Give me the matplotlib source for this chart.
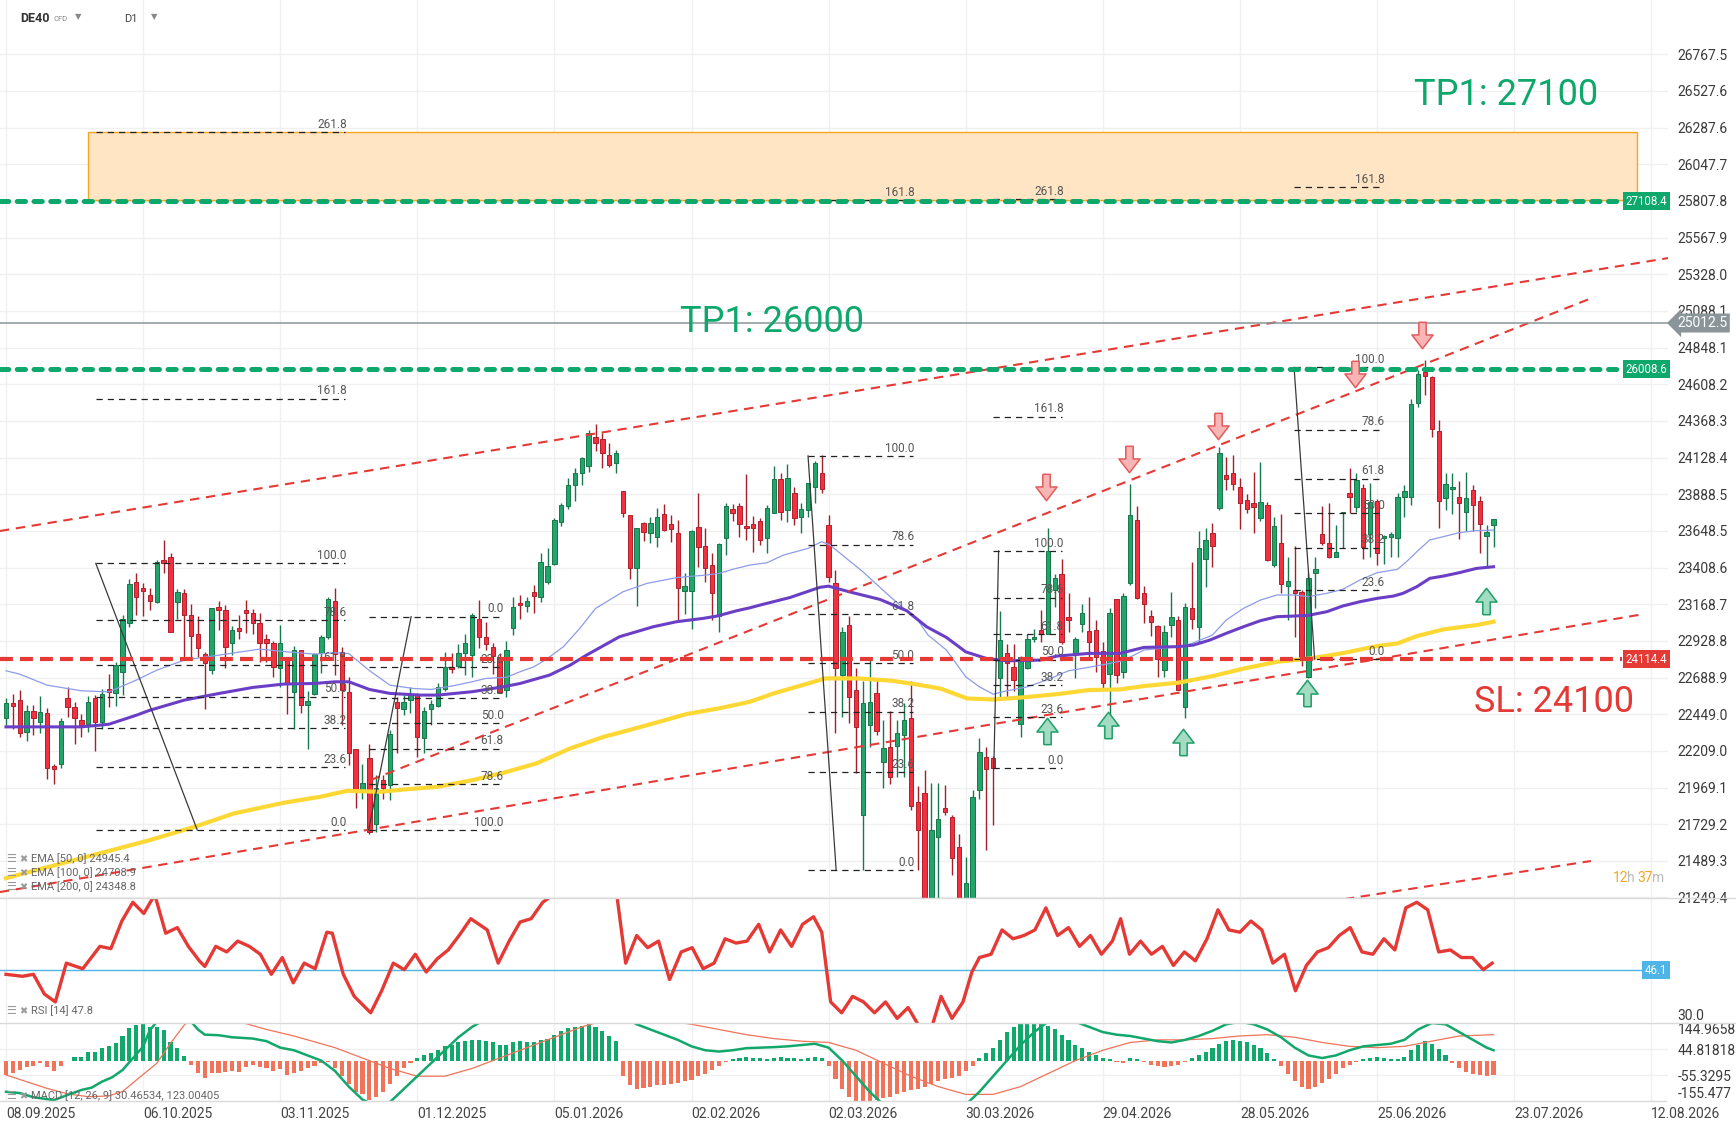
import numpy as np
import matplotlib
matplotlib.use('Agg')
import matplotlib.pyplot as plt
from matplotlib.path import Path
from matplotlib.lines import Line2D
from matplotlib import transforms

plt.rcParams['font.family'] = ['Roboto', 'DejaVu Sans']

# ---- data (price in axis units, x in bar index) ----
opens = [22421,22525,22539,22333,22471,22401,22456,22113,22126,22556,
         22493,22408,22388,22552,22399,22611,22589,22726,23043,23315,
         23272,23230,23180,23455,23475,23180,23239,23101,22971,22846,
         22737,23152,23134,22918,23016,23130,23108,23043,22940,22912,
         22748,22818,22595,22872,22512,22580,22851,22951,23189,22853,
         22595,22224,21947,22159,21729,22017,21985,22530,22480,22541,
         22574,22290,22480,22502,22611,22759,22764,22851,22836,23069,
         22951,22890,22820,22607,23010,23178,23159,23250,23213,23316,
         23429,23708,23813,23946,24025,24073,24261,24247,24145,24095,
         23911,23750,23403,23702,23632,23606,23757,23691,23632,23257,
         23257,23671,23549,23423,23091,23599,23789,23811,23680,23693,
         23713,23599,23767,23986,23785,23898,23737,23785,23933,24025,
         23684,23309,22705,23032,22607,21788,22378,22589,22137,22236,
         22240,22312,22421,21876,21930,21100,21642,21836,21773,21577,
         21150,21150,21952,22166,22159,22689,22847,22755,22384,22748,
         22938,22999,22973,23261,23364,23087,22851,23039,22995,22999,
         22864,22711,23200,22727,23309,23720,23240,23093,23026,22738,
         23032,23065,22498,23141,23022,23462,23632,23796,24014,24029,
         23933,23851,23833,23731,23818,23425,23571,23288,23261,23250,
         22694,23370,23628,23567,23480,23763,23899,23803,23927,23628,
         23846,23600,23610,23600,23868,23868,24488,24691,24654,24302,
         23861,23920,23868,23774,23916,23846,23615,23687]
highs = [22552,22580,22604,22506,22506,22567,22491,22126,22427,22624,
         22530,22453,22567,22573,22611,22711,22792,23097,23333,23374,
         23309,23278,23457,23592,23507,23267,23265,23173,23093,22857,
         23145,23189,23163,23025,23097,23195,23136,23108,22973,22927,
         23032,22824,22894,22872,22602,22851,22966,23213,23272,22890,
         22693,22224,22126,22257,22050,22050,22345,22563,22574,22628,
         22585,22498,22541,22650,22857,22847,22908,22977,23108,23196,
         23054,22912,22847,22930,23213,23228,23218,23294,23501,23534,
         23730,23833,23992,24058,24134,24309,24348,24291,24221,24178,
         23911,23750,23665,23709,23741,23796,23824,23752,23719,23375,
         23654,23898,23665,23506,23567,23829,23824,23833,24021,23745,
         23730,23818,24073,24029,24086,23938,23833,23964,24108,24145,
         23752,23392,23017,23091,22748,22668,22820,22683,22410,22471,
         22410,22519,22668,21978,22083,21996,21996,21985,21788,21668,
         21516,21952,22290,22231,22175,23126,22908,22908,22829,22977,
         23004,23130,23665,23366,23462,23244,22956,23170,23213,23065,
         22923,23141,23200,23240,23955,23811,23288,23130,23032,23032,
         23250,23091,23178,23447,23650,23665,23698,24195,24134,24145,
         23992,23890,24036,24101,23840,23741,23759,23475,23549,23261,
         23375,23475,23811,23829,23687,23774,24058,24025,23955,23960,
         23855,23622,23640,23894,23949,24510,24702,24767,24662,24374,
         24025,24025,23977,24036,23949,23877,23687,23724]
lows = [22377,22355,22301,22274,22312,22323,22028,21995,22100,22432,
        22257,22301,22333,22209,22355,22497,22504,22573,23021,23097,
        23093,23130,23174,23374,22988,23075,22813,22820,22820,22486,
        22715,22999,22748,22835,22938,22981,22977,22792,22792,22693,
        22628,22453,22355,22460,22224,22573,22720,22944,22704,22377,
        22115,21838,21897,21668,21679,21897,21887,22192,22443,22454,
        22166,22192,22378,22493,22602,22716,22748,22705,22694,22879,
        22868,22711,22596,22563,22967,23069,23119,23113,23185,23300,
        23425,23680,23789,23846,23946,24036,24173,24058,24064,24029,
        23737,23331,23159,23584,23571,23540,23647,23578,23065,23104,
        23004,23414,23316,23065,22988,23490,23715,23610,23589,23512,
        23556,23501,23763,23719,23708,23687,23632,23737,23833,23894,
        23316,22323,22432,22393,22061,21428,22236,22312,21963,21995,
        22039,22039,21825,21428,21050,21000,21150,21788,21395,21080,
        21050,21100,21897,21559,21723,22563,22552,22602,22301,22742,
        22923,22923,22973,23152,22908,22988,22689,22988,22825,22727,
        22617,22301,22650,22683,23294,23200,23043,22960,22694,22694,
        22952,22607,22421,23004,22923,23279,23414,23785,23916,23916,
        23659,23763,23637,23715,23453,23410,23240,23065,22956,22764,
        22683,23141,23556,23469,23475,23534,23763,23774,23462,23480,
        23425,23432,23480,23480,23741,23818,24462,24538,24261,23665,
        23785,23759,23593,23650,23650,23506,23419,23541]
closes = [22519,22501,22323,22471,22421,22462,22100,22087,22403,22493,
          22421,22381,22532,22399,22584,22595,22770,23069,23298,23213,
          23256,23191,23446,23440,22990,23246,23097,22960,22885,22781,
          23141,23130,22890,23003,22995,23108,23043,22916,22912,22755,
          22912,22650,22868,22508,22536,22846,22951,23200,22846,22606,
          22198,21947,21999,21679,21969,21967,22319,22487,22526,22580,
          22297,22469,22515,22624,22759,22742,22847,22916,23095,22951,
          22906,22829,22596,22868,23152,23163,23191,23224,23442,23418,
          23719,23815,23946,24025,24123,24291,24226,24156,24079,24156,
          23767,23403,23665,23639,23698,23741,23654,23658,23272,23287,
          23647,23540,23403,23239,23562,23811,23767,23691,23665,23665,
          23588,23796,23986,23774,23992,23730,23789,23959,24090,23920,
          23348,22748,22988,22563,22362,22519,22530,22340,22225,22039,
          22327,22414,21847,21690,21150,21690,21760,21810,21511,21150,
          21341,21908,22203,22087,22100,22934,22781,22672,22825,22938,
          22951,22973,23519,23337,22923,23065,22938,23108,22923,22825,
          22650,23108,22705,23222,23752,23207,23170,23050,22807,22989,
          23087,22607,23148,23069,23534,23589,23549,24156,23986,23955,
          23833,23790,23807,23840,23458,23680,23301,23323,23244,22807,
          23338,23397,23571,23475,23512,23774,23868,23981,23545,23840,
          23506,23615,23625,23868,23909,24479,24675,24665,24313,23846,
          23955,23933,23829,23861,23818,23693,23643,23724]

ema50_bar = [0,2,6,11,15,19,22,26,31,37,41,45,48,50,53,56,59.5,62,65,68,70,73,75,77,79,81.3,83.7,86,90,93.5,98,102,104,106,108.5,111,113.4,117,119,120.2,125,129,133,134.5,137.2,140,142,144,146,149,152,155,159,161,163,166,171,173,176,178,180.5,183,185.4,188,190,192.7,195,197.5,200,203,204.3,205.8,207.7,209.7,212,214.5,217]
ema50_val = [22733,22711,22639,22602,22595,22672,22737,22803,22835,22875,22857,22842,22851,22846,22735,22639,22617,22611,22633,22661,22683,22690,22727,22759,22814,22890,23010,23141,23250,23305,23344,23359,23370,23397,23425,23440,23490,23534,23578,23556,23381,23217,23065,22967,22868,22694,22628,22580,22602,22628,22676,22733,22764,22781,22800,22869,22891,22912,22967,23065,23141,23196,23229,23229,23218,23240,23266,23327,23375,23397,23447,23512,23589,23611,23637,23650,23654]
ema100_bar = [0,6,11,15,19,21,26,31,36,40.5,45,48,50,52,53,56,60.4,63,68,72.5,75,79.3,82.3,84.7,89.5,94.4,97.8,101.7,103.7,106.6,108.5,110,114.4,118.7,120,123,127.5,131.4,134.3,137.2,140,143,146,150.8,153.3,158,162.5,166,171,173.2,175.6,178,180.5,183,185.4,187.8,190,192.7,195,197.5,200,202.4,203.8,205.8,207.7,209.7,212,214.5,217]
ema100_val = [22366,22366,22366,22383,22442,22475,22541,22584,22624,22646,22650,22661,22661,22628,22611,22585,22574,22574,22596,22628,22650,22705,22770,22836,22956,23021,23054,23076,23091,23126,23145,23163,23213,23279,23287,23250,23200,23126,23021,22951,22857,22814,22798,22803,22829,22847,22847,22886,22891,22901,22934,22978,23021,23061,23087,23091,23096,23120,23157,23185,23207,23222,23240,23283,23338,23353,23375,23403,23414]
ema200_bar = [0,21,27.8,33.2,40.5,45.8,49.7,54.6,58,63,68,72.5,77.4,82.3,87.2,90,94.4,99.3,104,108.5,112,117,119.5,124.3,129.2,132.5,136.3,140.2,144,148.4,153.3,158,162.5,166,171,176,180.7,185.4,190.4,195.3,200,203,205.8,209.7,214.5,217]
ema200_val = [21376,21625,21716,21799,21869,21908,21947,21941,21956,21974,22017,22065,22127,22225,22301,22334,22388,22450,22487,22530,22585,22650,22683,22683,22668,22646,22617,22552,22545,22559,22580,22607,22611,22633,22655,22698,22749,22792,22814,22851,22895,22912,22960,23004,23032,23054]

rsi_bar = [0,2.4,4,5.6,7.2,8.8,11.2,13.7,15.3,16.9,18.5,20.1,21.7,23.3,25,26.6,28.2,29,30.6,32.2,33.8,35.5,37.1,38.7,40.3,41.9,43.5,45.1,46.8,47.6,49.2,50.8,53.2,54.8,56.5,58.1,59.7,61.3,62.9,64.5,66.1,67.8,70.2,71.8,73.4,75,76.6,78.3,79.5,84.7,89.1,90.4,92,93.6,95.2,96.8,98.5,100.1,101.7,103.3,104.9,106.5,108.1,109.8,111.4,113,114.6,116.2,117.8,119,120.3,121.9,123.5,125.1,126.7,128.3,130,131.6,133.2,134.8,136.4,138,139.6,140.9,142,143.7,145.3,146.9,148.5,150.1,151.7,153.4,155,156.6,158.2,159.8,161.4,162.6,163.9,165.5,167.1,168.7,170.3,171.9,173.5,175.2,176.8,178.4,180,181.6,183.2,184.8,186.5,188.1,189.7,191.3,192.9,194.5,196.1,197.8,199.4,201,202.6,204.2,205.8,207.4,209,210.7,212.3,213.9,215.5,216.8]
rsi_val = [44.8,44.2,44.8,38.8,36.4,48.2,46.5,53.3,52.6,61.0,66.7,63.3,69,57.3,59.0,53.3,48.9,47.2,53.3,51.6,54.9,53.3,50.9,44.8,49.9,42.2,48.2,46.5,57.6,57.3,44.8,38.1,33.1,39.8,48.2,46.2,50.9,45.5,49.5,52.2,56.6,61.7,58.3,48.2,54.9,60.7,61.7,66.7,68.5,75,69,48.2,56.6,52.9,54.9,43.2,51.6,52.9,46.5,48.2,55.6,54.3,54.9,60.0,51.6,58.3,53.3,60.0,62.3,57.6,36.4,33.1,38.1,36.4,33.1,36.4,31.4,34.7,29.0,27,38.1,31.4,36.4,45.5,49.9,50.9,58.3,55.6,56.6,58.3,65.0,56.6,59.0,53.3,56.6,50.9,54.9,61.7,50.9,54.9,50.9,53.3,47.5,51.6,48.9,55.6,64.4,58.3,57.6,61.0,58.3,48.2,50.9,39.8,47.5,51.6,52.9,56.6,59.0,51.6,50.9,55.6,52.2,65.0,66.7,64.4,51.6,52.2,49.9,49.9,46.2,48.2]

macd_hist = [-55,-47,-36,-23,-20,-10,-26,-38,-20,-3,
             13,15,33,33,47,56,67,95,124,137,144,131,128,118,73,47,18,
             -17,-49,-68,-46,-46,-42,-38,-42,-26,-17,-26,-30,-38,-33,-55,-49,
             -40,-30,-20,-10,-5,-30,-60,-90,-120,-130,-150,-140,-120,-90,-60,
             -30,-10,10,20,30,40,55,60,70,75,80,78,75,70,60,62,70,75,72,70,
             80,85,100,115,125,130,135,140,130,115,95,75,
             -60,-95,-110,-105,-100,-95,-95,-90,-85,-80,-75,-60,-50,-35,-20,
             -5,8,12,15,12,10,8,12,15,12,10,8,12,15,10,
             -20,-70,-110,-140,-160,-160,-155,-150,-145,-140,-130,-120,-115,
             -110,-100,-90,-80,-70,-65,-60,-40,-20,
             10,30,50,80,110,130,140,145,145,140,135,120,100,80,60,50,35,20,10,5,
             -5,-10,10,5,-5,-15,-20,-25,-20,-15,-5,10,20,35,50,65,75,80,75,70,
             60,50,30,5,-20,-50,-80,-100,-110,-100,-85,-70,-50,-30,-15,-5,5,10,15,10,
             5,5,15,40,60,75,65,45,20,-10,-30,-45,-50,-55,-60,-55]
macd_bar = [0,2,4,7,9,11,12.5,14,15.5,17,18.5,20,21,22,27,28,29,31,33,36,38,40,42,43,44,46,48,50,52,54,56,58,60,62,64,66,68,70,88,90,92,94,96,98,100,102,104,106,108,110,112,114,116,118,120,122,124,126,128,130,134,138,140,142,144,146,148,150,152,154,156,158,160,162,164,166,168,170,172,174,176,178,180,182,184,186,188,190,192,194,196,198,200,202,204,206,208,210,212,214,216,217]
macd_val = [-120,-125,-141,-152,-132,-113,-104,-81,-64,-36,9,54,118,150,150,120,100,98,90,85,75,50,40,30,20,0,-40,-100,-150,-175,-160,-110,-60,-10,40,90,130,160,200,170,140,120,100,80,55,40,35,40,48,50,52,55,60,65,50,0,-60,-120,-170,-200,-220,-200,-170,-120,-60,0,60,110,150,160,150,130,110,100,95,85,75,70,80,95,115,140,150,140,120,90,50,20,10,20,40,55,60,65,80,120,145,140,110,80,50,40]
signal_bar = [0,3,6,9,12,15,17,19,22,24,26,27,31,34,38,42,44,48,52,56,60,64,68,72,76,80,84,88,92,96,100,104,108,112,116,120,124,128,132,136,140,144,148,152,156,160,164,168,172,176,180,184,188,192,196,200,204,208,212,217]
signal_val = [-55,-81,-107,-128,-139,-136,-119,-75,-10,67,137,160,165,150,120,95,80,50,10,-30,-60,-60,-30,10,50,90,130,160,165,155,140,120,100,85,75,70,40,-10,-60,-100,-130,-130,-100,-50,0,40,70,80,80,85,95,100,90,70,55,50,55,75,95,100]

price_ticks = [21249.4,21489.3,21729.2,21969.1,22209.0,22449.0,22688.9,22928.8,23168.7,
               23408.6,23648.5,23888.5,24128.4,24368.3,24608.2,24848.1,25088.1,25328.0,
               25567.9,25807.8,26047.7,26287.6,26527.6,26767.5]
macd_ticks = [144.9658, 44.81818, -55.3295, -155.477]
macd_tick_labels = ['144.9658', '44.81818', '-55.3295', '-155.477']
date_bars = list(range(0, 241, 20))
date_labels = ['08.09.2025','06.10.2025','03.11.2025','01.12.2025','05.01.2026','02.02.2026',
               '02.03.2026','30.03.2026','29.04.2026','28.05.2026','25.06.2026','23.07.2026','12.08.2026']

# horizontal levels: (value on scale, tag text)
tp_levels = [25807.5, 24706]
tp_tags = ['27108.4', '26008.6']
sl_level, sl_tag = 22810, '24114.4'
last_level, last_tag = 25009, '25012.5'
rsi_level = 46.1

zone_bars = (12, 238)
zone_vals = (25814, 26259)

# trend lines: bar0, bar1, val0, val1
trend_b0 = [-0.875, 53.2, -0.875, 195.3]
trend_b1 = [242.45, 231.7, 238.9, 231.2]
trend_v0 = [23648, 22018, 21285, 21239]
trend_v1 = [25434, 25179, 23104, 21488]

# fibonacci sets
fib_start = [13.1, 52.9, 117.0, 144.0, 187.9]
fib_end = [49.5, 72.4, 132.3, 154.1, 200.9]
fib_zero = [21691, 23087, 21429, 22094, 22810]
fib_full = [23436, 21691, 24139, 23517, 24719]
fib_diag_a = [13.1, 52.9, 117.0, 144.8, 187.9]
fib_diag_b = [27.9, 59.1, 121.1, 144.1, 190.9]
fib_ext = [[161.8, 261.8], [], [161.8], [161.8, 261.8], [161.8]]
fib_levels = [0, 23.6, 38.2, 50, 61.8, 78.6, 100]

sell_bar = [151.7, 163.8, 176.8, 196.8, 206.6]
sell_val = [23936, 24119, 24335, 24675, 24930]
buy_bar = [151.9, 160.8, 171.7, 189.8, 215.9]
buy_val = [22339, 22378, 22267, 22587, 23189]

# ---- figure ----
W, H = 1736, 1139
fig = plt.figure(figsize=(W / 100, H / 100), dpi=100)

def px_axes(x0, y0, x1, y1):
    return fig.add_axes([x0 / W, 1 - y1 / H, (x1 - x0) / W, (y1 - y0) / H])

ax = px_axes(0, 0, 1668, 898)
ax_rsi = px_axes(0, 898, 1668, 1023)
ax_macd = px_axes(0, 1023, 1668, 1101)

XL = (-0.875, 242.45)
GRID = '#f0f0f0'
GREEN = '#0ea86c'
RED = '#e53935'
for a in (ax, ax_rsi, ax_macd):
    a.set_xlim(*XL)
    for s in a.spines.values():
        s.set_visible(False)
    for b in date_bars:
        a.axvline(b, color=GRID, lw=1, zorder=0)
    a.set_xticks([])
    a.yaxis.tick_right()
    a.tick_params(axis='y', length=0, pad=7, labelsize=10, labelcolor='#3a3a3a')

# main panel
ax.set_ylim(21246, 27123)
ax.set_yticks(price_ticks)
ax.set_yticklabels(['%.1f' % t for t in price_ticks])
for t in price_ticks:
    ax.axhline(t, color=GRID, lw=1, zorder=0)

ax.add_patch(plt.Rectangle((zone_bars[0], zone_vals[0]), zone_bars[1] - zone_bars[0],
                           zone_vals[1] - zone_vals[0], fc='#ffe5c4', ec='#f5a623', lw=1, zorder=1))

bars = np.arange(len(closes))
o, hi, lo, c = map(np.array, (opens, highs, lows, closes))
up = c >= o
ax.vlines(bars[up], lo[up], hi[up], color='#177a4c', lw=1, zorder=3)
ax.vlines(bars[~up], lo[~up], hi[~up], color='#a3202b', lw=1, zorder=3)
body_h = np.maximum(np.abs(c - o), 10)
ax.bar(bars[up], body_h[up], bottom=np.minimum(o, c)[up], width=0.64,
       color='#22a46b', edgecolor='#15774a', lw=0.7, zorder=4)
ax.bar(bars[~up], body_h[~up], bottom=np.minimum(o, c)[~up], width=0.64,
       color='#f2303f', edgecolor='#b01f2c', lw=0.7, zorder=4)

ax.plot(ema50_bar, ema50_val, color='#8e9be8', lw=0.9, zorder=5)
ax.plot(ema100_bar, ema100_val, color='#6a3fc6', lw=2.2, zorder=5)
ax.plot(ema200_bar, ema200_val, color='#fdd835', lw=3.0, zorder=5)

for b0, b1, v0, v1 in zip(trend_b0, trend_b1, trend_v0, trend_v1):
    ax.plot([b0, b1], [v0, v1], color=RED, lw=1.5, dashes=(4.5, 3.2), zorder=6)

for i in range(len(fib_start)):
    z, f = fib_zero[i], fib_full[i]
    ax.plot([fib_diag_a[i], fib_diag_b[i]], [f, z], color='#3a3a3a', lw=0.9, zorder=6)
    for lvl in fib_levels + fib_ext[i]:
        v = z + (f - z) * lvl / 100
        ax.plot([fib_start[i], fib_end[i]], [v, v], color='#222222', lw=0.9,
                dashes=(5, 4), zorder=6)
        ax.annotate('%.1f' % lvl, (fib_end[i], v), xytext=(1, 1), textcoords='offset points',
                    ha='right', va='bottom', fontsize=8.5, color='#555555', zorder=7)

blend = transforms.blended_transform_factory(ax.transAxes, ax.transData)
for v, tag in zip(tp_levels, tp_tags):
    ax.plot([XL[0], 235.9], [v, v], color=GREEN, lw=3.6, dashes=(1.65, 1.7),
            dash_capstyle='round', zorder=7)
    ax.text(0.9995, v, tag, transform=blend, ha='right', va='center', fontsize=8.3,
            color='white', zorder=10, clip_on=False,
            bbox=dict(boxstyle='square,pad=0.22', fc=GREEN, ec='none'))
ax.plot([XL[0], 235.8], [sl_level, sl_level], color=RED, lw=3.0, dashes=(3.1, 1.7), zorder=7)
ax.text(0.9995, sl_level, sl_tag, transform=blend, ha='right', va='center', fontsize=8.3,
        color='white', zorder=10, clip_on=False,
        bbox=dict(boxstyle='square,pad=0.22', fc=RED, ec='none'))
ax.axhline(last_level, color='#8a9499', lw=1.1, zorder=6)
ax.text(1.0055, last_level, last_tag, transform=blend, ha='left', va='center', fontsize=10,
        color='white', zorder=10, clip_on=False,
        bbox=dict(boxstyle='larrow,pad=0.18', fc='#8a9499', ec='none'))

arrow_dn = Path(np.array([(-0.14, 0.5), (0.14, 0.5), (0.14, 0.02), (0.4, 0.02), (0.0, -0.5),
                          (-0.4, 0.02), (-0.14, 0.02), (-0.14, 0.5)]))
arrow_up = Path(arrow_dn.vertices * np.array([1, -1]))
ax.plot(sell_bar, sell_val, ls='none', marker=arrow_dn, ms=19, mfc='#f8b5b5', mec='#e35b5b',
        mew=1.1, zorder=8)
ax.plot(buy_bar, buy_val, ls='none', marker=arrow_up, ms=19, mfc='#a3dcc2', mec='#1e9f6a',
        mew=1.1, zorder=8)

# RSI panel
ax_rsi.set_ylim(30, 68)
ax_rsi.set_yticks([30])
ax_rsi.set_yticklabels(['30.0'], va='bottom')
ax_rsi.axhline(rsi_level, color='#4fb4e6', lw=1, zorder=2)
ax_rsi.plot(rsi_bar, rsi_val, color=RED, lw=2.4, zorder=3)
blend_r = transforms.blended_transform_factory(ax_rsi.transAxes, ax_rsi.transData)
ax_rsi.text(0.9995, rsi_level, '46.1', transform=blend_r, ha='right', va='center', fontsize=8.3,
            color='white', zorder=10, clip_on=False,
            bbox=dict(boxstyle='square,pad=0.25', fc='#4fb4e6', ec='none'))

# MACD panel
ax_macd.set_ylim(macd_ticks[-1], macd_ticks[0])
ax_macd.set_yticks(macd_ticks)
ax_macd.set_yticklabels(macd_tick_labels)
labs = ax_macd.get_yticklabels()
labs[0].set_va('top')
labs[-1].set_va('bottom')
for t in macd_ticks[1:3]:
    ax_macd.axhline(t, color=GRID, lw=1, zorder=0)
hist = np.array(macd_hist)
hb = np.arange(len(hist))
ax_macd.bar(hb, hist, width=0.6, color=np.where(hist >= 0, '#12a86c', '#f0735a'), zorder=2)
ax_macd.plot(signal_bar, signal_val, color='#f0735a', lw=0.9, zorder=3)
ax_macd.plot(macd_bar, macd_val, color='#12a86c', lw=1.8, zorder=4)
ax_macd.set_xticks(date_bars)
ax_macd.set_xticklabels(date_labels)
ax_macd.tick_params(axis='x', length=0, pad=4, labelsize=10, labelcolor='#444444')
for lb in ax_macd.get_xticklabels():
    lb.set_ha('left')

# panel separators
for y, x1 in ((898, 1736), (1023, 1736), (1101, 1666)):
    fig.add_artist(Line2D([0, x1 / W], [1 - y / H, 1 - y / H], color='#dadada', lw=1))

# texts
def fx(x):
    return x / W

def fy(y):
    return 1 - y / H

fig.text(fx(1506), fy(95), 'TP1: 27100', color=GREEN, fontsize=26, ha='center', va='center')
fig.text(fx(772), fy(322), 'TP1: 26000', color=GREEN, fontsize=26, ha='center', va='center')
fig.text(fx(1554), fy(702), 'SL: 24100', color=RED, fontsize=26, ha='center', va='center')

fig.text(fx(20), fy(18), 'DE40', fontsize=9, weight='bold', color='#333333', va='center')
fig.text(fx(53), fy(19), 'CFD', fontsize=5.5, color='#888888', va='center')
fig.text(fx(75), fy(17), '▼', fontsize=6, color='#888888', va='center', family='DejaVu Sans')
fig.text(fx(124), fy(19), 'D1', fontsize=8, color='#444444', va='center')
fig.text(fx(151), fy(17), '▼', fontsize=6, color='#888888', va='center', family='DejaVu Sans')

legend_rows = [(859, 'EMA [50, 0] 24945.4'), (873, 'EMA [100, 0] 24708.9'),
               (887, 'EMA [200, 0] 24348.8'), (1011, 'RSI [14] 47.8'),
               (1096, 'MACD [12, 26, 9] 30.46534, 123.00405')]
for y, s in legend_rows:
    fig.text(fx(6), fy(y), '☰', fontsize=8, color='#9a9a9a', va='center', family='DejaVu Sans')
    fig.text(fx(19), fy(y), '✖', fontsize=7, color='#9a9a9a', va='center', family='DejaVu Sans')
    fig.text(fx(31), fy(y), s, fontsize=8, color='#666666', va='center')

for x, s, col in ((1613, '12', '#f5a623'), (1627, 'h', '#bbbbbb'),
                  (1637, '37', '#f5a623'), (1652, 'm', '#bbbbbb')):
    fig.text(fx(x), fy(878), s, fontsize=10, color=col, va='center')

fig.savefig('out.png', dpi=100, facecolor='white')
